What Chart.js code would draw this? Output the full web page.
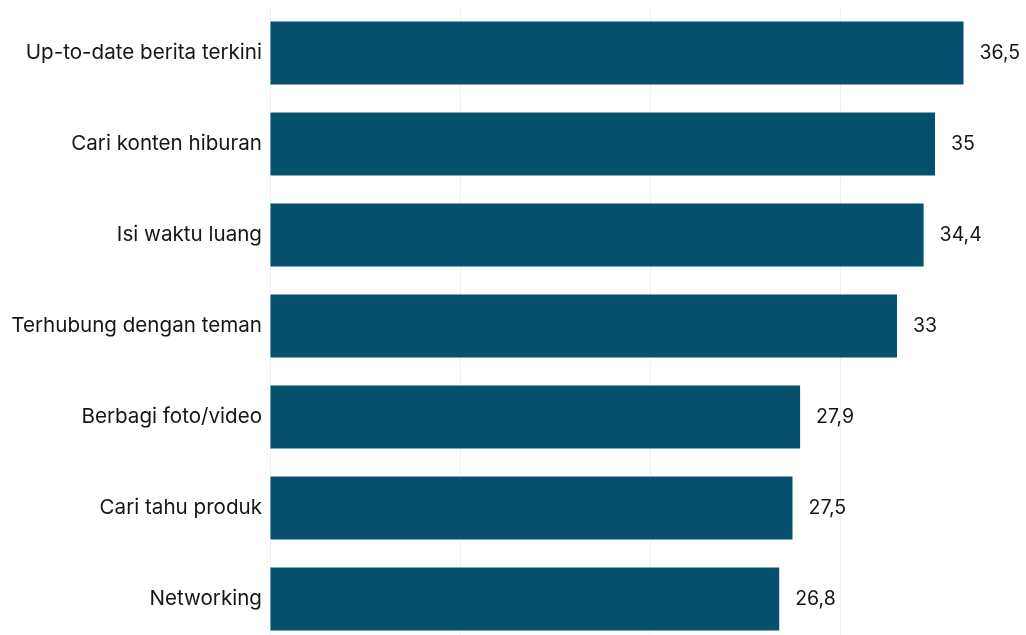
<!DOCTYPE html>
<html>
<head>
<meta charset="utf-8">
<script src="https://cdn.jsdelivr.net/npm/chart.js@4/dist/chart.umd.min.js"></script>
<style>
html,body{margin:0;padding:0;background:#fff;overflow:hidden;}
#wrap{position:relative;width:1030px;height:645px;}
</style>
</head>
<body>
<div id="wrap"><canvas id="c"></canvas></div>
<script>
const categories = ["Up-to-date berita terkini","Cari konten hiburan","Isi waktu luang","Terhubung dengan teman","Berbagi foto/video","Cari tahu produk","Networking"];
const values = [36.5, 35, 34.4, 33, 27.9, 27.5, 26.8];
const valueLabels = ["36,5","35","34,4","33","27,9","27,5","26,8"];

const FONT = "Inter, 'Liberation Sans', Arial, sans-serif";
const LABEL_SIZE = 20.6;
const VALUE_SIZE = 19.5;

const valuePlugin = {
  id: 'valueLabels',
  afterDatasetsDraw(chart) {
    const ctx = chart.ctx;
    const meta = chart.getDatasetMeta(0);
    ctx.save();
    ctx.font = VALUE_SIZE + "px " + FONT;
    ctx.fillStyle = "#161616";
    ctx.textAlign = "left";
    ctx.textBaseline = "middle";
    meta.data.forEach((bar, i) => {
      ctx.fillText(valueLabels[i], bar.x + 16, bar.y);
    });
    ctx.restore();
  }
};

new Chart(document.getElementById('c'), {
  type: 'bar',
  data: {
    labels: categories,
    datasets: [{
      data: values,
      backgroundColor: '#04506d',
      borderWidth: 0,
      barPercentage: 0.69,
      categoryPercentage: 1
    }]
  },
  options: {
    indexAxis: 'y',
    responsive: true,
    maintainAspectRatio: false,
    animation: false,
    layout: { padding: { top: 7.5, right: 0, bottom: 0.5, left: 0 } },
    plugins: { legend: { display: false }, tooltip: { enabled: false } },
    scales: {
      x: {
        min: 0, max: 40,
        ticks: { display: false, stepSize: 10 },
        grid: { color: '#efefef', drawTicks: false, lineWidth: 1 },
        border: { display: false },
        afterFit(s) { s.height = 0; s.paddingLeft = 0; s.paddingRight = 0; }
      },
      y: {
        ticks: { color: '#161616', font: { family: FONT, size: LABEL_SIZE }, padding: 8 },
        grid: { display: false, drawTicks: false },
        border: { display: false },
        afterFit(s) { s.width = 270; s.paddingTop = 0; s.paddingBottom = 0; }
      }
    }
  },
  plugins: [valuePlugin]
});
</script>
</body>
</html>
